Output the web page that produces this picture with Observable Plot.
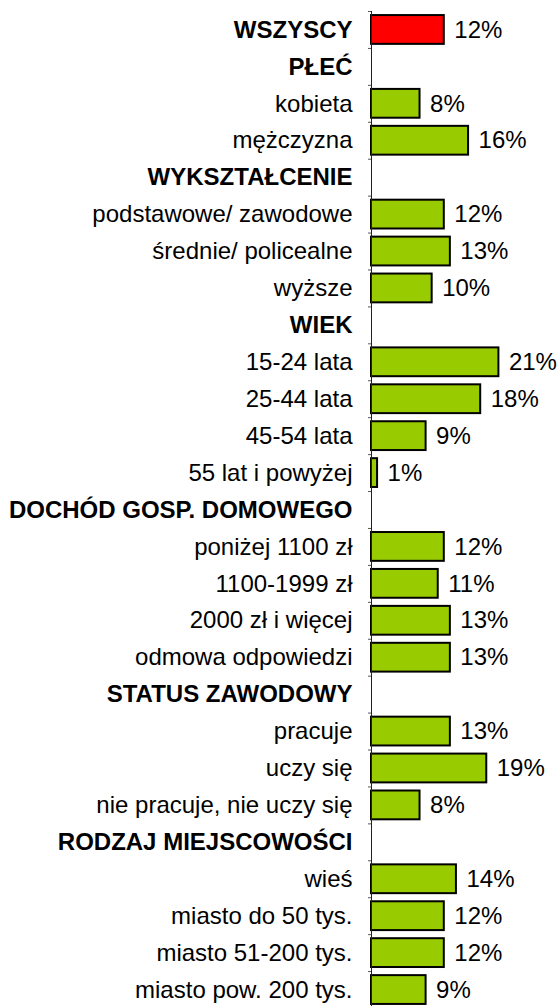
<!DOCTYPE html>
<html>
<head>
<meta charset="utf-8">
<script src="https://cdn.jsdelivr.net/npm/d3@7"></script>
<script src="https://cdn.jsdelivr.net/npm/@observablehq/plot@0.6"></script>
<style>
  html, body { margin: 0; padding: 0; background: #fff; }
  #chart svg { display: block; }
</style>
</head>
<body>
<div id="chart"></div>
<script>
const categories = ["WSZYSCY","PŁEĆ","kobieta","mężczyzna","WYKSZTAŁCENIE","podstawowe/ zawodowe","średnie/ policealne","wyższe","WIEK","15-24 lata","25-44 lata","45-54 lata","55 lat i powyżej","DOCHÓD GOSP. DOMOWEGO","poniżej 1100 zł","1100-1999 zł","2000 zł i więcej","odmowa odpowiedzi","STATUS ZAWODOWY","pracuje","uczy się","nie pracuje, nie uczy się","RODZAJ MIEJSCOWOŚCI","wieś","miasto do 50 tys.","miasto 51-200 tys.","miasto pow. 200 tys."];
const values = [12,null,8,16,null,12,13,10,null,21,18,9,1,null,12,11,13,13,null,13,19,8,null,14,12,12,9];
const headers = ["WSZYSCY","PŁEĆ","WYKSZTAŁCENIE","WIEK","DOCHÓD GOSP. DOMOWEGO","STATUS ZAWODOWY","RODZAJ MIEJSCOWOŚCI"];
const totalLabel = "WSZYSCY";

const rows = categories.map((c, i) => ({
  label: c,
  value: values[i],
  header: headers.includes(c),
  total: c === totalLabel
}));
const bars = rows.filter(d => d.value != null);
const headerRows = rows.filter(d => d.header);
const itemRows = rows.filter(d => !d.header);

const W = 557, H = 1006;
const yRange = [11, 1008];
const step = (yRange[1] - yRange[0]) / categories.length;

const chart = Plot.plot({
  width: W,
  height: H,
  marginLeft: 371,
  marginRight: 4,
  marginTop: 11,
  marginBottom: 0,
  style: {fontFamily: "'Liberation Sans', Arial, sans-serif", background: "#fff"},
  x: {domain: [0, 30], axis: null},
  y: {domain: categories, range: yRange, paddingInner: 0.22, paddingOuter: 0.11, round: false, axis: null},
  marks: [
    Plot.barX(bars, {
      y: "label", x: "value",
      fill: d => d.total ? "#ff0000" : "#99cc00",
      stroke: "#000", strokeWidth: 2
    }),
    Plot.ruleX([0], {stroke: "#222", strokeWidth: 1}),
    Plot.ruleY(categories, {y: d => d, x1: -0.5, x2: 0, dy: -step / 2, stroke: "#555", strokeWidth: 1}),
    Plot.text(itemRows, {
      y: "label", x: 0, text: "label", textAnchor: "end", dx: -19,
      fontSize: 24, fill: "#000"
    }),
    Plot.text(headerRows, {
      y: "label", x: 0, text: "label", textAnchor: "end", dx: -19,
      fontSize: 24, fontWeight: "bold", fill: "#000"
    }),
    Plot.text(bars, {
      y: "label", x: "value", text: d => d.value + "%", textAnchor: "start", dx: 10,
      fontSize: 24, fill: "#000"
    })
  ]
});
document.getElementById("chart").appendChild(chart);
</script>
</body>
</html>
